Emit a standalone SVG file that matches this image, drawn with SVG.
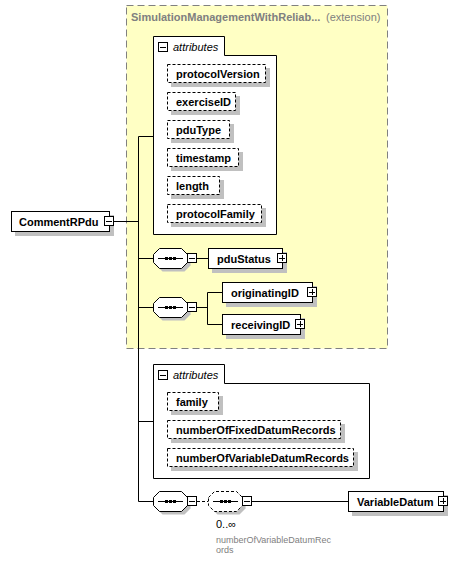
<svg xmlns="http://www.w3.org/2000/svg" xmlns:xlink="http://www.w3.org/1999/xlink" width="473" height="563" viewBox="0 0 473 563">
<style>
  text { font-family: "Liberation Sans", Arial, sans-serif; }
  .lbl { font-size: 11px; font-weight: bold; fill: #000; }
  .box { fill: #fff; stroke: #000; stroke-width: 1; }
  .att { fill: #fff; stroke: #000; stroke-width: 1; stroke-dasharray: 3,2; }
  .shd { fill: #c0c0c0; stroke: none; }
  .ln { fill: none; stroke: #000; stroke-width: 1; }
  .dln { fill: none; stroke: #000; stroke-width: 1; stroke-dasharray: 3,2; }
  .tab { font-size: 11px; font-style: italic; fill: #000; }
  .gray { fill: #808080; }
</style>
<defs>
  <g id="minus"><rect x="0.5" y="0.5" width="9" height="9" fill="#fff" stroke="#000"/><path d="M2 5.5h6" stroke="#000"/></g>
  <g id="plus"><rect x="0.5" y="0.5" width="9" height="9" fill="#fff" stroke="#000"/><path d="M2 5.5h6M5.5 2v6" stroke="#000"/></g>
  <path id="oct" d="M0.5 6.5 L6.5 0.5 H28.5 L34.5 6.5 V14.5 L28.5 20.5 H6.5 L0.5 14.5 Z"/>
  <g id="seqmark"><path d="M5 10.5h25" stroke="#000"/><rect x="12" y="9" width="3" height="3" fill="#000"/><rect x="16" y="9" width="3" height="3" fill="#000"/><rect x="20" y="9" width="3" height="3" fill="#000"/></g>
</defs>

<g id="extension">
  <rect x="126.5" y="5.5" width="261" height="343" fill="#ffffc4" stroke="#808080" stroke-dasharray="7,4"/>
  <text x="131" y="21" font-size="11" font-weight="bold" class="gray">SimulationManagementWithReliab...</text>
  <text x="326" y="21" font-size="11" class="gray">(extension)</text>
</g>

<g id="connectors">
  <path class="ln" d="M114 221.5H138.5"/>
  <path class="ln" d="M138.5 136.5V501.5"/>
  <path class="ln" d="M138.5 136.5H153"/>
  <path class="ln" d="M138.5 258.5H153"/>
  <path class="ln" d="M138.5 307.5H153"/>
  <path class="ln" d="M138.5 421.5H153"/>
  <path class="ln" d="M138.5 501.5H153"/>
  <path class="ln" d="M197 258.5H208"/>
  <path class="ln" d="M197 307.5H207.5M207.5 292.5V324.5M207.5 292.5H222M207.5 324.5H222"/>
  <path class="dln" d="M197 501.5H208"/>
  <path class="ln" d="M252 501.5H348"/>
</g>

<g id="CommentRPdu">
  <rect class="shd" x="15" y="215" width="99" height="21"/>
  <rect class="box" x="11.5" y="211.5" width="98" height="20"/>
  <text class="lbl" x="19" y="226">CommentRPdu</text>
  <use xlink:href="#minus" x="104" y="216"/>
</g>

<g id="attributes1">
  <path class="box" d="M153.5 234.5V36.5H224.5V55.5H276.5V234.5Z"/>
  <use xlink:href="#minus" x="158" y="42"/>
  <text class="tab" x="173" y="51">attributes</text>
</g>
<g id="protocolVersion"><rect class="shd" x="171" y="68" width="99" height="19"/><rect class="att" x="167.5" y="64.5" width="98" height="18"/><text class="lbl" x="176" y="78">protocolVersion</text></g>
<g id="exerciseID"><rect class="shd" x="171" y="96" width="69" height="19"/><rect class="att" x="167.5" y="92.5" width="68" height="18"/><text class="lbl" x="176" y="106">exerciseID</text></g>
<g id="pduType"><rect class="shd" x="171" y="124" width="63" height="19"/><rect class="att" x="167.5" y="120.5" width="62" height="18"/><text class="lbl" x="176" y="134">pduType</text></g>
<g id="timestamp"><rect class="shd" x="171" y="152" width="72" height="19"/><rect class="att" x="167.5" y="148.5" width="71" height="18"/><text class="lbl" x="176" y="162">timestamp</text></g>
<g id="length"><rect class="shd" x="171" y="180" width="53" height="19"/><rect class="att" x="167.5" y="176.5" width="52" height="18"/><text class="lbl" x="176" y="190">length</text></g>
<g id="protocolFamily"><rect class="shd" x="171" y="208" width="95" height="19"/><rect class="att" x="167.5" y="204.5" width="94" height="18"/><text class="lbl" x="176" y="218">protocolFamily</text></g>

<g id="sequence1">
  <use xlink:href="#oct" x="156" y="251" class="shd"/>
  <use xlink:href="#oct" x="153" y="248" class="box"/>
  <use xlink:href="#seqmark" x="153" y="248"/>
  <use xlink:href="#minus" x="187" y="253"/>
</g>
<g id="pduStatus">
  <rect class="shd" x="212" y="252" width="75" height="21"/>
  <rect class="box" x="208.5" y="248.5" width="74" height="20"/>
  <text class="lbl" x="217" y="263">pduStatus</text>
  <use xlink:href="#plus" x="277" y="253"/>
</g>

<g id="sequence2">
  <use xlink:href="#oct" x="156" y="300" class="shd"/>
  <use xlink:href="#oct" x="153" y="297" class="box"/>
  <use xlink:href="#seqmark" x="153" y="297"/>
  <use xlink:href="#minus" x="187" y="302"/>
</g>
<g id="originatingID">
  <rect class="shd" x="226" y="286" width="91" height="21"/>
  <rect class="box" x="222.5" y="282.5" width="90" height="20"/>
  <text class="lbl" x="231" y="297">originatingID</text>
  <use xlink:href="#plus" x="307" y="287"/>
</g>
<g id="receivingID">
  <rect class="shd" x="226" y="318" width="79" height="21"/>
  <rect class="box" x="222.5" y="314.5" width="78" height="20"/>
  <text class="lbl" x="231" y="329">receivingID</text>
  <use xlink:href="#plus" x="295" y="319"/>
</g>

<g id="attributes2">
  <path class="box" d="M153.5 478.5V364.5H224.5V383.5H369.5V478.5Z"/>
  <use xlink:href="#minus" x="158" y="370"/>
  <text class="tab" x="173" y="379">attributes</text>
</g>
<g id="family"><rect class="shd" x="171" y="396" width="52" height="19"/><rect class="att" x="167.5" y="392.5" width="51" height="18"/><text class="lbl" x="176" y="406">family</text></g>
<g id="numberOfFixedDatumRecords"><rect class="shd" x="171" y="424" width="174" height="19"/><rect class="att" x="167.5" y="420.5" width="173" height="18"/><text class="lbl" x="176" y="434">numberOfFixedDatumRecords</text></g>
<g id="numberOfVariableDatumRecords"><rect class="shd" x="171" y="452" width="187" height="19"/><rect class="att" x="167.5" y="448.5" width="186" height="18"/><text class="lbl" x="176" y="462">numberOfVariableDatumRecords</text></g>

<g id="sequence3">
  <use xlink:href="#oct" x="156" y="494" class="shd"/>
  <use xlink:href="#oct" x="153" y="491" class="box"/>
  <use xlink:href="#seqmark" x="153" y="491"/>
  <use xlink:href="#minus" x="187" y="496"/>
</g>
<g id="sequence4">
  <use xlink:href="#oct" x="211" y="494" class="shd"/>
  <use xlink:href="#oct" x="208" y="491" class="att"/>
  <use xlink:href="#seqmark" x="208" y="491"/>
  <use xlink:href="#minus" x="242" y="496"/>
  <text x="216" y="528" font-size="11" fill="#000">0..∞</text>
  <text x="216" y="543" font-size="9" class="gray">numberOfVariableDatumRec</text>
  <text x="216" y="553" font-size="9" class="gray">ords</text>
</g>
<g id="VariableDatum">
  <rect class="shd" x="352" y="495" width="96" height="21"/>
  <rect class="box" x="348.5" y="491.5" width="95" height="20"/>
  <text class="lbl" x="357" y="506">VariableDatum</text>
  <use xlink:href="#plus" x="438" y="496"/>
</g>
</svg>
